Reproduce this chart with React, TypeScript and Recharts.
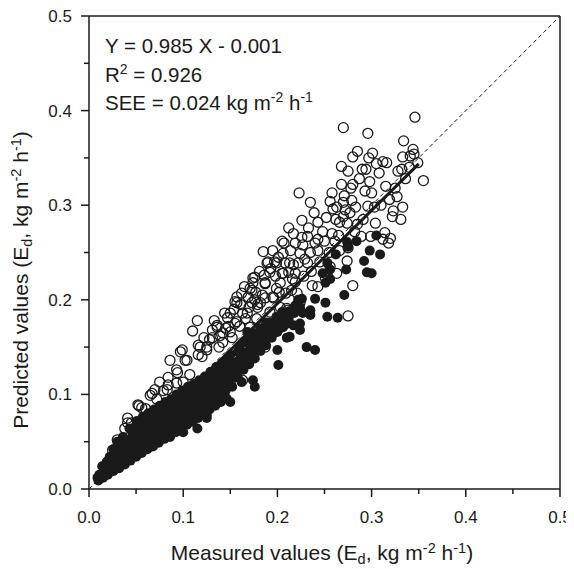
import { Customized, ReferenceLine, Scatter, ScatterChart, XAxis, YAxis } from 'recharts';

const FONT = '"Liberation Sans", Arial, Helvetica, sans-serif';
const INK = '#1a1a1a';

const AXIS_TICKS = [0, 0.05, 0.1, 0.15, 0.2, 0.25, 0.3, 0.35, 0.4, 0.45, 0.5];

// fitted line printed on the chart
const SLOPE = 0.985;
const INTERCEPT = -0.001;
const FIT_RANGE = [0.008, 0.35];

// measured vs predicted, hollow markers
const openPoints: [number, number][] = [
  [0.346, 0.393], [0.27, 0.382], [0.296, 0.376], [0.334, 0.368], [0.344, 0.359], [0.345, 0.354],
  [0.285, 0.357], [0.301, 0.355], [0.28, 0.351], [0.297, 0.35], [0.312, 0.346], [0.305, 0.344],
  [0.333, 0.351], [0.268, 0.341], [0.275, 0.336], [0.29, 0.338], [0.294, 0.338], [0.328, 0.336],
  [0.332, 0.338], [0.34, 0.34], [0.355, 0.326], [0.28, 0.322], [0.278, 0.318], [0.223, 0.313],
  [0.235, 0.303], [0.293, 0.315], [0.3, 0.313], [0.271, 0.31], [0.256, 0.304], [0.27, 0.303],
  [0.259, 0.296], [0.263, 0.298], [0.283, 0.298], [0.277, 0.292], [0.296, 0.299], [0.327, 0.309],
  [0.333, 0.298], [0.323, 0.294], [0.322, 0.288], [0.331, 0.285], [0.226, 0.284], [0.243, 0.282],
  [0.266, 0.282], [0.274, 0.281], [0.27, 0.288], [0.304, 0.281], [0.217, 0.27], [0.219, 0.26],
  [0.232, 0.267], [0.243, 0.264], [0.24, 0.26], [0.289, 0.267], [0.299, 0.267], [0.314, 0.271],
  [0.32, 0.265], [0.312, 0.264], [0.318, 0.26], [0.185, 0.251], [0.195, 0.252], [0.206, 0.249],
  [0.224, 0.249], [0.243, 0.252], [0.19, 0.24], [0.199, 0.239], [0.208, 0.239], [0.217, 0.237],
  [0.222, 0.239], [0.232, 0.239], [0.256, 0.235], [0.266, 0.252], [0.275, 0.255], [0.274, 0.241],
  [0.192, 0.229], [0.205, 0.228], [0.212, 0.229], [0.219, 0.228], [0.176, 0.224], [0.174, 0.218],
  [0.187, 0.217], [0.203, 0.218], [0.237, 0.215], [0.243, 0.214], [0.251, 0.223], [0.28, 0.215],
  [0.263, 0.228], [0.173, 0.21], [0.176, 0.2], [0.187, 0.202], [0.196, 0.202], [0.179, 0.192],
  [0.275, 0.183], [0.211, 0.189], [0.224, 0.197],
  [0.115, 0.178], [0.11, 0.167], [0.086, 0.136], [0.099, 0.147], [0.104, 0.136], [0.118, 0.15],
  [0.116, 0.142], [0.125, 0.147], [0.131, 0.16], [0.136, 0.171], [0.144, 0.186], [0.147, 0.181],
  [0.155, 0.198], [0.157, 0.203], [0.162, 0.207], [0.171, 0.212], [0.174, 0.223], [0.187, 0.218],
  [0.189, 0.239], [0.197, 0.24], [0.206, 0.228], [0.213, 0.239], [0.219, 0.219], [0.21, 0.191],
  [0.213, 0.187], [0.195, 0.203], [0.182, 0.197], [0.168, 0.186], [0.171, 0.171], [0.189, 0.171],
  [0.195, 0.165], [0.157, 0.177], [0.15, 0.166], [0.142, 0.155], [0.131, 0.168], [0.187, 0.15],
  [0.179, 0.155], [0.157, 0.128], [0.075, 0.113], [0.083, 0.105], [0.093, 0.112], [0.1, 0.113],
  [0.107, 0.121], [0.07, 0.105], [0.15, 0.113],
  [0.097, 0.145], [0.102, 0.136], [0.067, 0.101], [0.065, 0.099], [0.053, 0.088], [0.056, 0.086],
  [0.041, 0.075], [0.038, 0.064], [0.084, 0.118], [0.093, 0.126], [0.094, 0.123], [0.116, 0.152],
  [0.125, 0.15], [0.136, 0.173], [0.142, 0.165], [0.15, 0.186], [0.155, 0.175], [0.163, 0.186],
  [0.157, 0.197], [0.173, 0.197], [0.179, 0.195], [0.192, 0.187], [0.203, 0.192], [0.211, 0.186],
  [0.185, 0.155], [0.158, 0.126], [0.163, 0.115], [0.128, 0.115], [0.025, 0.041], [0.052, 0.089],
  [0.041, 0.07], [0.084, 0.11], [0.12, 0.14], [0.128, 0.158], [0.138, 0.15], [0.145, 0.17],
  [0.152, 0.16], [0.16, 0.172], [0.166, 0.18], [0.17, 0.192], [0.178, 0.18], [0.184, 0.205],
  [0.198, 0.225], [0.202, 0.208], [0.215, 0.21], [0.228, 0.225], [0.235, 0.25], [0.25, 0.262],
  [0.258, 0.27], [0.262, 0.285], [0.285, 0.28], [0.31, 0.3], [0.315, 0.32], [0.03, 0.052],
  [0.045, 0.07], [0.06, 0.085], [0.072, 0.095], [0.079, 0.104],
  [0.122, 0.16], [0.133, 0.178], [0.139, 0.162], [0.148, 0.172], [0.154, 0.19], [0.161, 0.195],
  [0.165, 0.214], [0.169, 0.203], [0.177, 0.208], [0.181, 0.23], [0.186, 0.226], [0.193, 0.233],
  [0.199, 0.212], [0.201, 0.245], [0.207, 0.26], [0.209, 0.207], [0.214, 0.252], [0.216, 0.222],
  [0.221, 0.207], [0.227, 0.258], [0.229, 0.243], [0.233, 0.276], [0.236, 0.23], [0.239, 0.292],
  [0.245, 0.24], [0.248, 0.272], [0.252, 0.287], [0.255, 0.25], [0.258, 0.313], [0.261, 0.262],
  [0.265, 0.268], [0.268, 0.322], [0.272, 0.295], [0.279, 0.305], [0.282, 0.272], [0.287, 0.328],
  [0.291, 0.285], [0.298, 0.325], [0.303, 0.298], [0.308, 0.334], [0.316, 0.345], [0.319, 0.306],
  [0.325, 0.318], [0.336, 0.328], [0.341, 0.352], [0.349, 0.345], [0.226, 0.266], [0.205, 0.262],
  [0.212, 0.276]
];

// measured vs predicted, solid markers
const filledPoints: [number, number][] = [
  [0.01, 0.009], [0.011, 0.015], [0.009, 0.012],
  [0.015, 0.012], [0.016, 0.019], [0.014, 0.024],
  [0.02, 0.015], [0.021, 0.022], [0.019, 0.029], [0.022, 0.034],
  [0.026, 0.019], [0.025, 0.027], [0.027, 0.035], [0.026, 0.042],
  [0.032, 0.022], [0.031, 0.03], [0.033, 0.038], [0.032, 0.045], [0.03, 0.05],
  [0.038, 0.026], [0.037, 0.034], [0.039, 0.042], [0.038, 0.049], [0.036, 0.055],
  [0.044, 0.03], [0.043, 0.038], [0.045, 0.046], [0.044, 0.053], [0.046, 0.06], [0.043, 0.064],
  [0.05, 0.034], [0.049, 0.042], [0.051, 0.05], [0.05, 0.058], [0.048, 0.065], [0.051, 0.072],
  [0.056, 0.038], [0.055, 0.046], [0.057, 0.054], [0.056, 0.062], [0.054, 0.069], [0.057, 0.076],
  [0.062, 0.042], [0.061, 0.05], [0.063, 0.058], [0.062, 0.066], [0.06, 0.073], [0.063, 0.08],
  [0.068, 0.045], [0.067, 0.053], [0.069, 0.061], [0.068, 0.069], [0.066, 0.077], [0.069, 0.084],
  [0.074, 0.049], [0.073, 0.057], [0.075, 0.065], [0.074, 0.073], [0.072, 0.081], [0.075, 0.088],
  [0.08, 0.053], [0.079, 0.061], [0.081, 0.069], [0.08, 0.077], [0.078, 0.085], [0.081, 0.092],
  [0.086, 0.056], [0.085, 0.064], [0.087, 0.072], [0.086, 0.08], [0.084, 0.088], [0.087, 0.095],
  [0.092, 0.06], [0.091, 0.068], [0.093, 0.076], [0.092, 0.084], [0.09, 0.092], [0.093, 0.1],
  [0.098, 0.064], [0.097, 0.072], [0.099, 0.08], [0.098, 0.088], [0.096, 0.096], [0.099, 0.104],
  [0.104, 0.068], [0.103, 0.076], [0.105, 0.084], [0.104, 0.092], [0.102, 0.1], [0.105, 0.108],
  [0.11, 0.071], [0.109, 0.079], [0.111, 0.087], [0.11, 0.095], [0.108, 0.103], [0.111, 0.111],
  [0.116, 0.075], [0.115, 0.083], [0.117, 0.091], [0.116, 0.099], [0.114, 0.107], [0.117, 0.115],
  [0.122, 0.08], [0.121, 0.088], [0.123, 0.096], [0.122, 0.104], [0.12, 0.112], [0.123, 0.119],
  [0.128, 0.084], [0.127, 0.092], [0.129, 0.1], [0.128, 0.108], [0.126, 0.116], [0.129, 0.124],
  [0.134, 0.088], [0.133, 0.096], [0.135, 0.104], [0.134, 0.112], [0.132, 0.12], [0.135, 0.129],
  [0.14, 0.092], [0.139, 0.1], [0.141, 0.108], [0.14, 0.116], [0.138, 0.124], [0.141, 0.133],
  [0.146, 0.096], [0.145, 0.104], [0.147, 0.113], [0.146, 0.121], [0.144, 0.129], [0.147, 0.138],
  [0.152, 0.108], [0.151, 0.117], [0.153, 0.126], [0.152, 0.134], [0.15, 0.142],
  [0.158, 0.118], [0.157, 0.127], [0.159, 0.136], [0.158, 0.145], [0.16, 0.151],
  [0.164, 0.126], [0.163, 0.135], [0.165, 0.144], [0.164, 0.155],
  [0.17, 0.132], [0.169, 0.141], [0.171, 0.15], [0.17, 0.159],
  [0.176, 0.138], [0.175, 0.147], [0.177, 0.156], [0.176, 0.164],
  [0.182, 0.146], [0.181, 0.155], [0.183, 0.163], [0.182, 0.17],
  [0.188, 0.152], [0.187, 0.161], [0.189, 0.169], [0.188, 0.176],
  [0.194, 0.16], [0.195, 0.168], [0.193, 0.176],
  [0.2, 0.166], [0.201, 0.174], [0.199, 0.182],
  [0.206, 0.172], [0.207, 0.18], [0.205, 0.187],
  [0.212, 0.18], [0.213, 0.188], [0.218, 0.186], [0.219, 0.194], [0.224, 0.192],
  [0.305, 0.268], [0.274, 0.261], [0.275, 0.256], [0.298, 0.252], [0.309, 0.248], [0.292, 0.241],
  [0.295, 0.229], [0.3, 0.228], [0.253, 0.239], [0.256, 0.232], [0.273, 0.232], [0.256, 0.222],
  [0.251, 0.218], [0.271, 0.205], [0.226, 0.201], [0.24, 0.201], [0.251, 0.197], [0.235, 0.189],
  [0.253, 0.182], [0.264, 0.181], [0.206, 0.171], [0.217, 0.173], [0.224, 0.175], [0.213, 0.161],
  [0.211, 0.175], [0.203, 0.17], [0.222, 0.2], [0.2, 0.147], [0.201, 0.131], [0.174, 0.115],
  [0.176, 0.108], [0.162, 0.113], [0.174, 0.158], [0.19, 0.16], [0.168, 0.166], [0.231, 0.15],
  [0.24, 0.147], [0.15, 0.092], [0.136, 0.096], [0.125, 0.078], [0.125, 0.075], [0.115, 0.064],
  [0.1, 0.06], [0.086, 0.055], [0.21, 0.16], [0.224, 0.168], [0.227, 0.186], [0.235, 0.184],
  [0.262, 0.248], [0.248, 0.228], [0.284, 0.262]
];

const toXY = (rows: [number, number][]) => rows.map(([x, y]) => ({ x, y }));

const isMajor = (v: number) => Math.round(v * 100) % 10 === 0;

function XTick({ x, y, payload }: any) {
  const v = payload.value as number;
  const major = isMajor(v);
  return (
    <g>
      <line x1={x} x2={x} y1={y} y2={y + (major ? 8 : 5)} stroke={INK} strokeWidth={1.5} />
      {major && (
        <text x={x} y={y + 34} textAnchor="middle" fontSize={17} fontFamily={FONT} fill={INK}>
          {v.toFixed(1)}
        </text>
      )}
    </g>
  );
}

function YTick({ x, y, payload }: any) {
  const v = payload.value as number;
  const major = isMajor(v);
  return (
    <g>
      <line x1={x - (major ? 8 : 5)} x2={x} y1={y} y2={y} stroke={INK} strokeWidth={1.5} />
      {major && (
        <text x={x - 17} y={y + 6} textAnchor="end" fontSize={17} fontFamily={FONT} fill={INK}>
          {v.toFixed(1)}
        </text>
      )}
    </g>
  );
}

const OpenDot = ({ cx, cy }: any) => (
  <circle cx={cx} cy={cy} r={5} fill="none" stroke={INK} strokeWidth={1.3} />
);

const FilledDot = ({ cx, cy }: any) => <circle cx={cx} cy={cy} r={5} fill={INK} />;

function Unit() {
  const sup = { fontSize: 14.5 };
  return (
    <>
      (E<tspan dy={4} {...sup}>d</tspan>
      <tspan dy={-4}>, kg m</tspan>
      <tspan dy={-7} {...sup}>-2</tspan>
      <tspan dy={7}> h</tspan>
      <tspan dy={-7} {...sup}>-1</tspan>
      <tspan dy={7}>)</tspan>
    </>
  );
}

function Annotations() {
  const sup = { fontSize: 14 };
  return (
    <g fontFamily={FONT} fill={INK}>
      <text x={105} y={53} fontSize={20.5}>Y = 0.985 X - 0.001</text>
      <text x={105} y={82} fontSize={20.5}>
        R<tspan dy={-8} {...sup}>2</tspan>
        <tspan dy={8}> = 0.926</tspan>
      </text>
      <text x={105} y={110} fontSize={20.5}>
        SEE = 0.024 kg m<tspan dy={-8} {...sup}>-2</tspan>
        <tspan dy={8}> h</tspan>
        <tspan dy={-8} {...sup}>-1</tspan>
      </text>
      <text x={322} y={560} fontSize={21} textAnchor="middle">
        Measured values <Unit />
      </text>
      <text x={28} y={280} fontSize={21} textAnchor="middle" transform="rotate(-90 28 280)">
        Predicted values <Unit />
      </text>
    </g>
  );
}

export default function App() {
  const fit = FIT_RANGE.map((x) => ({ x, y: SLOPE * x + INTERCEPT }));
  return (
    <div style={{ width: 574, height: 569, margin: '-8px 0 0 -8px' }}>
      <ScatterChart width={574} height={569} margin={{ top: 16, right: 14, bottom: 0, left: 0 }}>
        <XAxis
          type="number"
          dataKey="x"
          domain={[0, 0.5]}
          ticks={AXIS_TICKS}
          interval={0}
          allowDataOverflow
          height={80}
          tickSize={0}
          tickMargin={0}
          tickLine={false}
          axisLine={{ stroke: INK, strokeWidth: 1.5 }}
          tick={<XTick />}
        />
        <YAxis
          type="number"
          dataKey="y"
          domain={[0, 0.5]}
          ticks={AXIS_TICKS}
          interval={0}
          allowDataOverflow
          width={89}
          tickSize={0}
          tickMargin={0}
          tickLine={false}
          axisLine={{ stroke: INK, strokeWidth: 1.5 }}
          tick={<YTick />}
        />
        <ReferenceLine y={0.5} stroke={INK} strokeWidth={1.5} />
        <ReferenceLine x={0.5} stroke={INK} strokeWidth={1.5} />
        <Scatter data={toXY(openPoints)} shape={OpenDot} isAnimationActive={false} />
        <Scatter data={toXY(filledPoints)} shape={FilledDot} isAnimationActive={false} />
        <ReferenceLine
          segment={[{ x: 0, y: 0 }, { x: 0.5, y: 0.5 }]}
          stroke={INK}
          strokeWidth={1}
          strokeDasharray="4 3"
        />
        <ReferenceLine segment={[fit[0], fit[1]]} stroke={INK} strokeWidth={3} />
        <Customized component={Annotations} />
      </ScatterChart>
    </div>
  );
}
